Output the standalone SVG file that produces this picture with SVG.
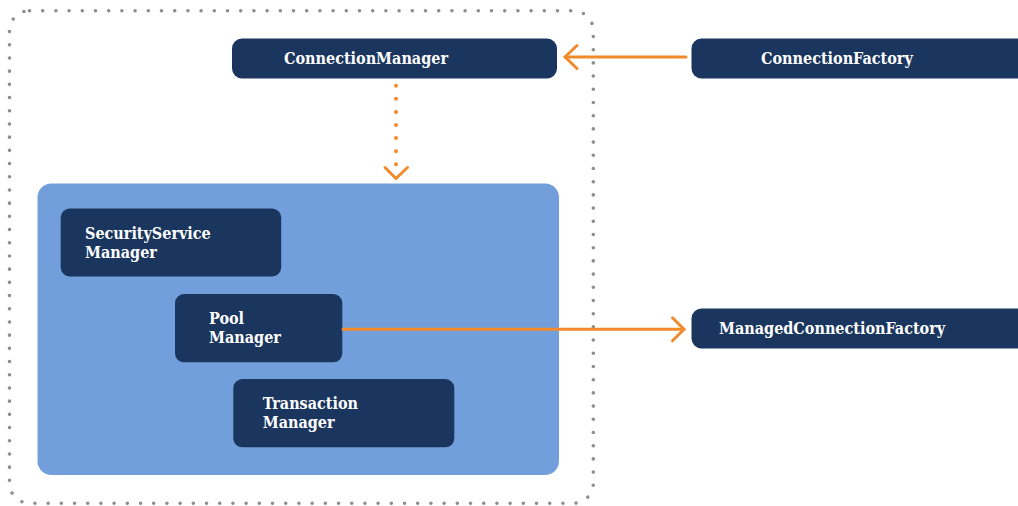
<svg xmlns="http://www.w3.org/2000/svg" width="1018" height="506" viewBox="0 0 1018 506">
  <style>
    .box { fill: #1a365e; }
    .lbl { font-family: "DejaVu Serif Condensed", "DejaVu Serif", serif; font-stretch: condensed; font-weight: bold; font-size: 16px; fill: #ffffff; }
    .wire { fill: none; stroke: #f28a2b; stroke-width: 3; stroke-linecap: round; stroke-linejoin: round; }
    .dots { fill: none; stroke: #f28a2b; stroke-width: 4; stroke-linecap: round; stroke-dasharray: 0 13.1; }
    .frame { fill: none; stroke: #8e8e8e; stroke-width: 3.6; stroke-linecap: round; stroke-dasharray: 0 13.2; }
  </style>
  <rect width="1018" height="506" fill="#ffffff"/>
  <g id="boundary">
    <rect class="frame" x="9.5" y="10.7" width="583.8" height="492.6" rx="20"/>
  </g>
  <g id="container">
    <rect x="37.5" y="183.5" width="521.5" height="291.5" rx="14" fill="#729fdb"/>
  </g>
  <g id="connection-manager">
    <rect class="box" x="232" y="38.5" width="325" height="40" rx="10"/>
    <text class="lbl" x="284" y="63.5">ConnectionManager</text>
  </g>
  <g id="connection-factory">
    <rect class="box" x="691.5" y="38.5" width="340" height="40" rx="10"/>
    <text class="lbl" x="761" y="64">ConnectionFactory</text>
  </g>
  <g id="managed-connection-factory">
    <rect class="box" x="691.5" y="308.5" width="340" height="40" rx="10"/>
    <text class="lbl" x="719" y="333.5">ManagedConnectionFactory</text>
  </g>
  <g id="security-service-manager">
    <rect class="box" x="60.7" y="208.5" width="220.5" height="68" rx="9"/>
    <text class="lbl" x="85" y="239">SecurityService</text>
    <text class="lbl" x="85" y="258">Manager</text>
  </g>
  <g id="pool-manager">
    <rect class="box" x="175" y="294" width="167.3" height="68.3" rx="9"/>
    <text class="lbl" x="209" y="323.5">Pool</text>
    <text class="lbl" x="209" y="342.5">Manager</text>
  </g>
  <g id="transaction-manager">
    <rect class="box" x="233.3" y="379" width="221" height="68.3" rx="9"/>
    <text class="lbl" x="262.7" y="408.5">Transaction</text>
    <text class="lbl" x="262.7" y="427.5">Manager</text>
  </g>
  <g id="connectors">
    <path class="wire" d="M686 57 L565 57"/>
    <path class="wire" d="M577 45.5 L565 57 L577 68.5"/>
    <path class="dots" d="M396 85.7 L396 165"/>
    <path class="wire" d="M385 167.5 L396 178.5 L407.5 167.5"/>
    <path class="wire" d="M343 329.3 L684 329.3"/>
    <path class="wire" d="M672.5 317.8 L684 329.3 L672.5 340.8"/>
  </g>
</svg>
